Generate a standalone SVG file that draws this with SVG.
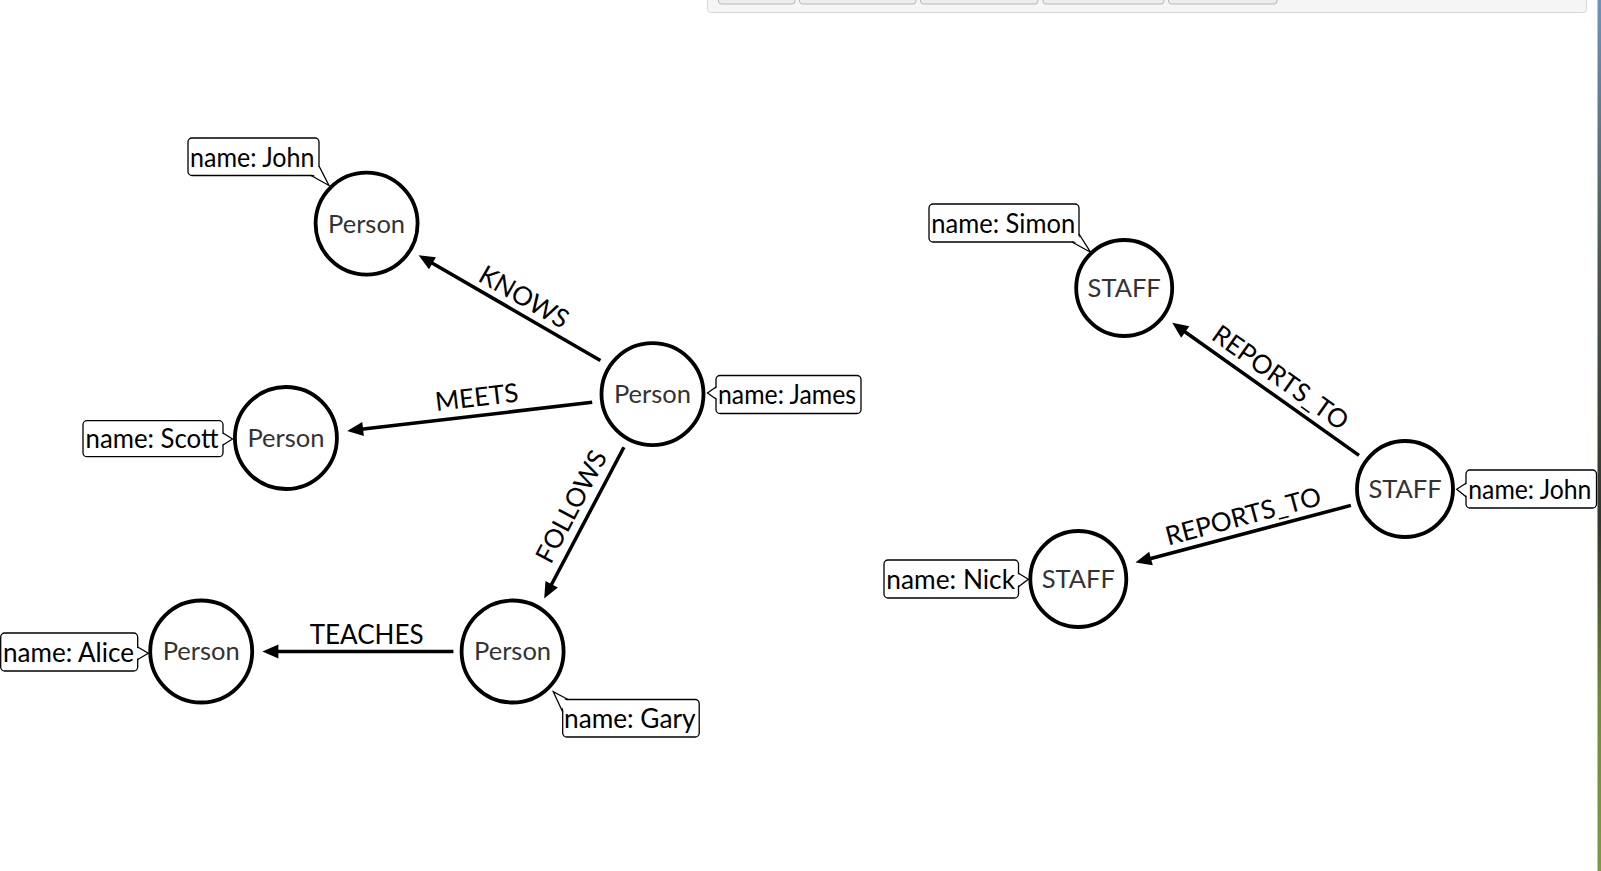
<svg xmlns="http://www.w3.org/2000/svg" width="1601" height="871" viewBox="0 0 1601 871">
<style>
.node circle{fill:#fff;stroke:#000;stroke-width:3.8}
.node text{font-family:Lato,"Open Sans",sans-serif;font-size:25.5px;fill:#333;text-anchor:middle}
.lbl rect{fill:#fff;stroke:#000;stroke-width:1.3}
.lbl .cover{fill:#fff;stroke:none}
.lbl .side{fill:none;stroke:#000;stroke-width:1.3}
.lbl text{font-family:Lato,"Open Sans",sans-serif;font-size:26px;fill:#000}
.edge{stroke:#000;stroke-width:3.5;fill:none}
.elabel{font-family:Lato,"Open Sans",sans-serif;font-size:26px;fill:#000;text-anchor:middle}
.btn{fill:#ececec;stroke:#b8b8b8;stroke-width:1}
</style>
<defs>
<marker id="arr" markerUnits="userSpaceOnUse" markerWidth="20" markerHeight="16" viewBox="0 -8 18 16" refX="4" refY="0" orient="auto">
<path d="M0,-7 L16,0 L0,7 Z" fill="#000"/>
</marker>
<linearGradient id="strip" x1="0" y1="0" x2="0" y2="1">
<stop offset="0" stop-color="#6f93bd"/>
<stop offset="0.3" stop-color="#4d5a50"/>
<stop offset="0.6" stop-color="#30362a"/>
<stop offset="0.8" stop-color="#6f8a3a"/>
<stop offset="1" stop-color="#7c9a45"/>
</linearGradient>
</defs>
<rect width="1601" height="871" fill="#fff"/>
<g id="toolbar">
<rect x="707.5" y="-6" width="879" height="18.5" rx="3" fill="#f5f5f5" stroke="#d6d6d6"/>
<rect class="btn" x="718.5" y="-6" width="76.5" height="10" rx="3"/>
<rect class="btn" x="799.5" y="-6" width="116.5" height="10" rx="3"/>
<rect class="btn" x="920.5" y="-6" width="117.5" height="10" rx="3"/>
<rect class="btn" x="1043" y="-6" width="121" height="10" rx="3"/>
<rect class="btn" x="1168.5" y="-6" width="108.5" height="10" rx="3"/>
</g>
<rect x="1597.5" y="0" width="3.5" height="871" fill="url(#strip)"/>
<g id="connectors">
<line class="edge" x1="600.4" y1="360.4" x2="429.0" y2="261.3" marker-end="url(#arr)"/>
<line class="edge" x1="592.2" y1="402.3" x2="359.1" y2="429.5" marker-end="url(#arr)"/>
<line class="edge" x1="623.9" y1="447.2" x2="549.8" y2="587.8" marker-end="url(#arr)"/>
<line class="edge" x1="453.4" y1="651.5" x2="274.4" y2="651.5" marker-end="url(#arr)"/>
<line class="edge" x1="1359" y1="455.4" x2="1182.0" y2="329.7" marker-end="url(#arr)"/>
<line class="edge" x1="1350.9" y1="505.4" x2="1147.1" y2="559.5" marker-end="url(#arr)"/>
<text class="elabel" transform="translate(524,297) rotate(30)" y="9">KNOWS</text>
<text class="elabel" transform="translate(476.8,397.2) rotate(-6.65)" y="9">MEETS</text>
<text class="elabel" transform="translate(571.3,506.5) rotate(-62.2)" y="9">FOLLOWS</text>
<text class="elabel" transform="translate(366.6,634.6)" y="9">TEACHES</text>
<text class="elabel" transform="translate(1280.5,377.5) rotate(35.4)" y="9">REPORTS_TO</text>
<text class="elabel" transform="translate(1243.2,516.2) rotate(-14.9)" y="9">REPORTS_TO</text>
</g>
<g id="n-john" class="node"><circle cx="366.6" cy="223.6" r="51"/><text x="366.6" y="232.5">Person</text></g>
<g id="n-james" class="node"><circle cx="652.5" cy="394.1" r="51"/><text x="652.5" y="403">Person</text></g>
<g id="n-scott" class="node"><circle cx="285.9" cy="438" r="51"/><text x="285.9" y="446.9">Person</text></g>
<g id="n-gary" class="node"><circle cx="512.6" cy="651.5" r="51"/><text x="512.6" y="660.4">Person</text></g>
<g id="n-alice" class="node"><circle cx="201.2" cy="651.5" r="51"/><text x="201.2" y="660.4">Person</text></g>
<g id="n-simon" class="node"><circle cx="1124.2" cy="288" r="48"/><text x="1124.2" y="296.9">STAFF</text></g>
<g id="n-john2" class="node"><circle cx="1405" cy="489" r="48"/><text x="1405" y="497.9">STAFF</text></g>
<g id="n-nick" class="node"><circle cx="1078.3" cy="579" r="48"/><text x="1078.3" y="587.9">STAFF</text></g>
<g id="l-john" class="lbl">
<rect x="188" y="138" width="131" height="37.5" rx="4"/>
<polygon class="cover" points="311,173.5 319.5,166 329,185"/>
<polyline class="side" points="311,175.5 329,185.5 319,166"/>
<text x="190" y="166.5" textLength="124.5" lengthAdjust="spacingAndGlyphs">name: John</text>
</g>
<g id="l-james" class="lbl">
<rect x="716" y="375.5" width="145" height="38" rx="4"/>
<polygon class="cover" points="718,387 718,399 707.5,393"/>
<polyline class="side" points="716,387 707.5,393 716,399"/>
<text x="718" y="403.5" textLength="138" lengthAdjust="spacingAndGlyphs">name: James</text>
</g>
<g id="l-scott" class="lbl">
<rect x="83" y="420.7" width="140" height="36" rx="4"/>
<polygon class="cover" points="221,433 221,445 232.5,439"/>
<polyline class="side" points="223,433 232.5,439 223,445"/>
<text x="85.5" y="448" textLength="133" lengthAdjust="spacingAndGlyphs">name: Scott</text>
</g>
<g id="l-alice" class="lbl">
<rect x="0.7" y="633" width="137" height="38" rx="4"/>
<polygon class="cover" points="135.7,647 135.7,659.5 148.3,653.3"/>
<polyline class="side" points="137.7,647 148.3,653.3 137.7,659.5"/>
<text x="3" y="661.5" textLength="131" lengthAdjust="spacingAndGlyphs">name: Alice</text>
</g>
<g id="l-gary" class="lbl">
<rect x="562.7" y="699.5" width="136.5" height="37.5" rx="4"/>
<polygon class="cover" points="564.7,712 568,701.5 553.3,691.7"/>
<polyline class="side" points="562.7,712 553.3,691.7 568,699.5"/>
<text x="564" y="728" textLength="131.5" lengthAdjust="spacingAndGlyphs">name: Gary</text>
</g>
<g id="l-simon" class="lbl">
<rect x="929" y="204" width="150" height="38" rx="4"/>
<polygon class="cover" points="1072,240 1077,234 1090.5,252.2"/>
<polyline class="side" points="1072,242 1090.5,252.2 1079,234"/>
<text x="931.2" y="232.5" textLength="144" lengthAdjust="spacingAndGlyphs">name: Simon</text>
</g>
<g id="l-john2" class="lbl">
<rect x="1466" y="470" width="130.5" height="38" rx="4"/>
<polygon class="cover" points="1468,483.3 1468,496.7 1456.7,489.3"/>
<polyline class="side" points="1466,483.3 1456.7,489.3 1466,496.7"/>
<text x="1468.3" y="498.5" textLength="123" lengthAdjust="spacingAndGlyphs">name: John</text>
</g>
<g id="l-nick" class="lbl">
<rect x="884" y="560" width="134.5" height="38" rx="4"/>
<polygon class="cover" points="1016.5,573.3 1016.5,586.7 1028.3,579.3"/>
<polyline class="side" points="1018.5,573.3 1028.3,579.3 1018.5,586.7"/>
<text x="886.3" y="588.5" textLength="128.7" lengthAdjust="spacingAndGlyphs">name: Nick</text>
</g>
</svg>
